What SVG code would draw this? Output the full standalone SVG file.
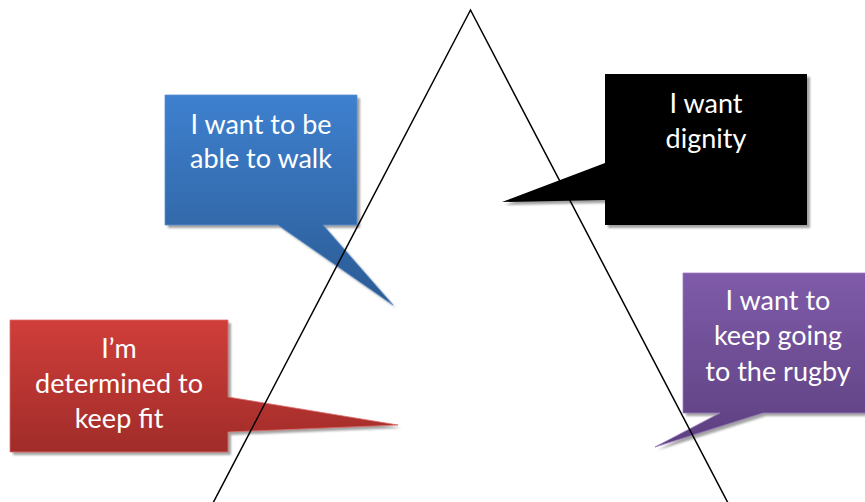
<svg xmlns="http://www.w3.org/2000/svg" width="865" height="502" viewBox="0 0 865 502">
<defs>
<linearGradient id="gBlue" x1="0" y1="0" x2="0" y2="1"><stop offset="0" stop-color="#3e80cf"/><stop offset="1" stop-color="#2b5b94"/></linearGradient>
<linearGradient id="gRed" x1="0" y1="0" x2="0" y2="1"><stop offset="0" stop-color="#d03e3a"/><stop offset="1" stop-color="#a02c29"/></linearGradient>
<linearGradient id="gPurple" x1="0" y1="0" x2="0" y2="1"><stop offset="0" stop-color="#7f5ba9"/><stop offset="1" stop-color="#5d4080"/></linearGradient>
<filter id="blur" x="-5%" y="-5%" width="110%" height="110%"><feGaussianBlur stdDeviation="1"/></filter>
</defs>
<style>
.shadow{fill:#8c8c8c;opacity:0.8;filter:url(#blur)}
.lbl{font-family:Lato,"Open Sans",sans-serif;font-size:27px;fill:#ffffff;text-anchor:middle}
.tri{fill:none;stroke:#000000;stroke-width:1.5}
</style>
<g id="blue-callout">
<path class="shadow" transform="translate(3,3)" d="M165,95 H357 V225 H323 L393,305 L278,225 H165 Z"/>
<path d="M165,95 H357 V225 H323 L393,305 L278,225 H165 Z" fill="url(#gBlue)" stroke="#5a8fd0" stroke-width="0.8"/>
<text class="lbl" x="261" y="134">I want to be</text>
<text class="lbl" x="261" y="168">able to walk</text>
</g>
<g id="black-callout">
<path class="shadow" transform="translate(3,3)" d="M605,74 H807 V225 H605 V200 L502,202 L605,163 Z"/>
<path d="M605,74 H807 V225 H605 V200 L502,202 L605,163 Z" fill="#000000"/>
<text class="lbl" x="706" y="113">I want</text>
<text class="lbl" x="706" y="148">dignity</text>
</g>
<g id="red-callout">
<path class="shadow" transform="translate(3,3)" d="M10,320 H228 V397 L398,425 L228,432 V452 H10 Z"/>
<path d="M10,320 H228 V397 L398,425 L228,432 V452 H10 Z" fill="url(#gRed)" stroke="#e0706c" stroke-width="0.8"/>
<text class="lbl" x="119" y="358">I’m</text>
<text class="lbl" x="119" y="393">determined to</text>
<text class="lbl" x="119" y="428">keep fit</text>
</g>
<g id="purple-callout">
<path class="shadow" transform="translate(3,3)" d="M683,273 H873 V413 H763 L655,447 L720,413 H683 Z"/>
<path d="M683,273 H873 V413 H763 L655,447 L720,413 H683 Z" fill="url(#gPurple)" stroke="#9a7cc0" stroke-width="0.8"/>
<text class="lbl" x="778" y="310">I want to</text>
<text class="lbl" x="778" y="345">keep going</text>
<text class="lbl" x="778" y="381">to the rugby</text>
</g>
<g id="triangle">
<path class="tri" d="M213,503 L470.5,10 L728,503"/>
</g>
</svg>
